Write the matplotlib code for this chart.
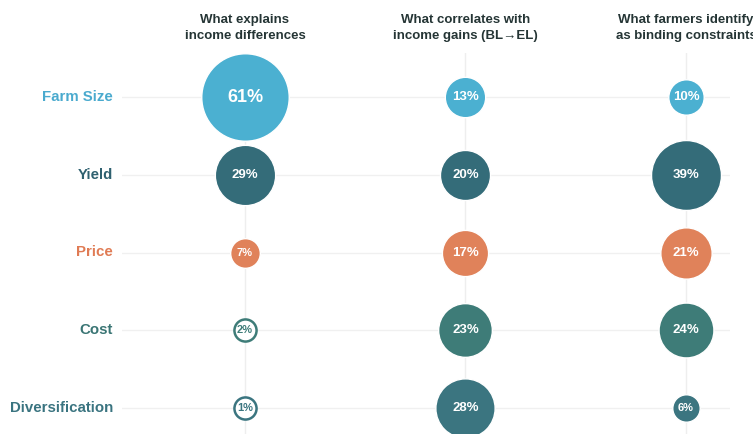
import numpy as np
import matplotlib
matplotlib.use("Agg")
import matplotlib.pyplot as plt

plt.rcParams['font.family'] = ['Liberation Sans', 'DejaVu Sans']

# factors (rows) and the three lenses (columns)
factors = ["Farm Size", "Yield", "Price", "Cost", "Diversification"]
lenses = ["What explains\nincome differences",
          "What correlates with\nincome gains (BL\u2192EL)",
          "What farmers identify\nas binding constraints"]

# shares in %, one list per lens, ordered like factors
explains = [61, 29, 7, 2, 1]
correlates = [13, 20, 17, 23, 28]
constraints = [10, 39, 21, 24, 6]

factor_colors = ["#4BB0D1", "#346C79", "#E0825A", "#3E7C78", "#3B7580"]
label_colors = ["#4AAACE", "#2F6170", "#E07B54", "#3A7574", "#3A7480"]

W, H = 753, 434
fig = plt.figure(figsize=(W / 100, H / 100), dpi=100)

# axes placed in pixel terms: x from 122 to 730, y from 53 to bottom edge
ax = fig.add_axes([122 / W, 0, (730 - 122) / W, (H - 53) / H])
px_x = 220.5   # pixels per column
px_y = 77.75   # pixels per row
ax.set_xlim((122 - 245) / px_x, (730 - 245) / px_x)
ax.set_ylim((H - 97) / px_y, -(97 - 53) / px_y)
ax.axis("off")

# faint grid
for r in range(len(factors)):
    ax.axhline(r, color="#F0F0F0", lw=1, zorder=0)
for c in range(len(lenses)):
    ax.axvline(c, color="#EEEEEE", lw=1, zorder=0)

scale = 11.2  # diameter in px per sqrt(%)
cols = [explains, correlates, constraints]
for c, vals in enumerate(cols):
    for r, v in enumerate(vals):
        small = v < 5
        d = scale * np.sqrt(max(v, 3.9))
        s = (d * 72 / 100) ** 2
        if small:
            ax.scatter(c, r, s=s, facecolor="white", edgecolor=factor_colors[r],
                       linewidth=1.8, zorder=3, clip_on=False)
            ax.text(c, r, f"{v}%", ha="center", va="center", fontsize=8,
                    fontweight="bold", color=factor_colors[r], zorder=4)
        else:
            ax.scatter(c, r, s=s, facecolor=factor_colors[r], edgecolor="white",
                       linewidth=1, zorder=3, clip_on=False)
            fs = 13 if v > 50 else (9.5 if v >= 10 else 8)
            ax.text(c, r, f"{v}%", ha="center", va="center", fontsize=fs,
                    fontweight="bold", color="white", zorder=4)

# row labels
for r, name in enumerate(factors):
    fig.text(113 / W, 1 - (97 + r * px_y) / H, name, ha="right", va="center",
             fontsize=10.8, fontweight="bold", color=label_colors[r])

# column titles
for c, title in enumerate(lenses):
    fig.text((245 + c * px_x) / W, 1 - 28 / H, title, ha="center", va="center",
             fontsize=9.5, fontweight="bold", color="#253535", linespacing=1.4)

fig.savefig("out.png", dpi=100, facecolor="white")
